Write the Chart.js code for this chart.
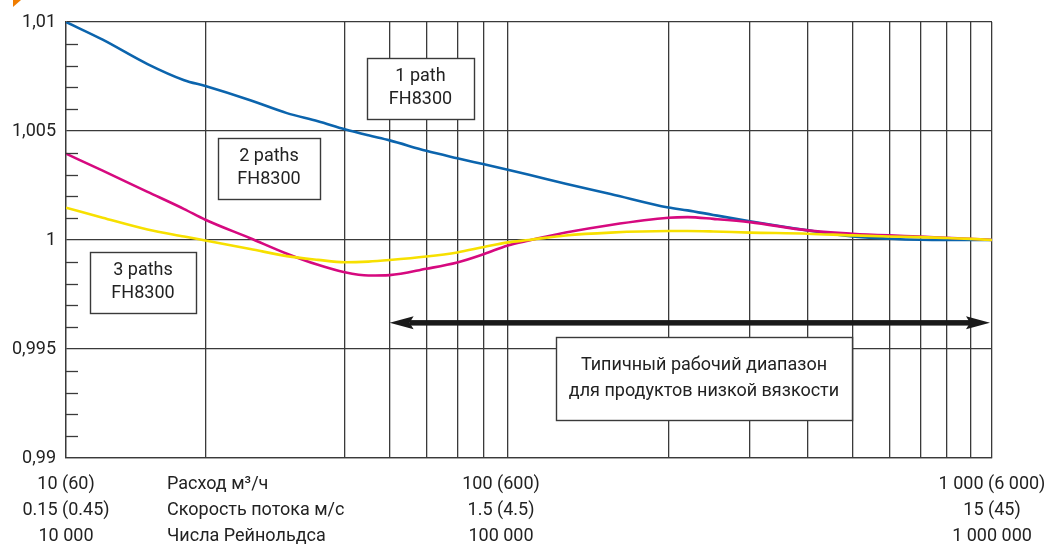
<!DOCTYPE html>
<html>
<head>
<meta charset="utf-8">
<script src="https://cdn.jsdelivr.net/npm/chart.js@4.4.1/dist/chart.umd.min.js"></script>
<style>
html,body{margin:0;padding:0;background:#fff;}
#wrap{width:1051px;height:553px;position:relative;}
</style>
</head>
<body>
<div id="wrap"><canvas id="c" width="1051" height="553"></canvas></div>
<script>
// ---- data (x = flow rate, m3/h; log axis) ----
const flowRates  = [10, 12, 15, 18, 20, 25, 30, 35, 40, 45, 50, 60, 70, 80, 90, 100, 120, 150, 200, 220, 250, 300, 400, 500, 600, 700, 800, 900, 1000];
const onePath    = [1.0100, 1.00919, 1.00807, 1.00733, 1.00706, 1.00641, 1.00582, 1.00545, 1.00508, 1.00480, 1.00457, 1.00409, 1.00375, 1.00347, 1.00322, 1.00299, 1.00258, 1.00211, 1.00149, 1.00136, 1.00115, 1.00086, 1.00044, 1.00016, 1.00006, 1.00001, 1.0000, 1.0000, 1.0000];
const twoPaths   = [1.00396, 1.00318, 1.00221, 1.00142, 1.00093, 1.00008, 0.99937, 0.99886, 0.99852, 0.99837, 0.99839, 0.99868, 0.99897, 0.99936, 0.99975, 0.99998, 1.00034, 1.00069, 1.00102, 1.00105, 1.00097, 1.00082, 1.00044, 1.00029, 1.00021, 1.00016, 1.00010, 1.00006, 1.0000];
const threePaths = [1.00148, 1.00102, 1.00048, 1.00016, 0.99998, 0.99959, 0.99926, 0.99909, 0.99898, 0.99901, 0.99908, 0.99924, 0.99943, 0.99968, 0.99989, 1.00000, 1.00021, 1.00034, 1.00041, 1.00041, 1.00039, 1.00034, 1.00029, 1.00021, 1.00016, 1.00013, 1.00009, 1.00005, 1.0000];

// ---- axis ticks / labels ----
const yTickValues = [0.99, 0.995, 1, 1.005, 1.01];
const yTickLabels = ['0,99', '0,995', '1', '1,005', '1,01'];
const yMinorTicks = [0.991, 0.992, 0.993, 0.994, 0.996, 0.997, 0.998, 0.999, 1.001, 1.002, 1.003, 1.004, 1.006, 1.007, 1.008, 1.009];
const xGridValues = [10, 20, 40, 50, 60, 70, 80, 90, 200, 300, 400, 500, 600, 700, 800, 900, 1000];
const xLabelValues = [10, 87, 1000];
const flowLabels     = ['10 (60)', '100 (600)', '1 000 (6 000)'];
const speedLabels    = ['0.15 (0.45)', '1.5 (4.5)', '15 (45)'];
const reynoldsLabels = ['10 000', '100 000', '1 000 000'];
const rowTitles      = ['Расход м³/ч', 'Скорость потока м/с', 'Числа Рейнольдса'];

// ---- annotations ----
const seriesBoxes = [
  {lines: ['1 path', 'FH8300'],  x: 367, y: 58,  w: 107, h: 61},
  {lines: ['2 paths', 'FH8300'], x: 218, y: 138, w: 102, h: 61},
  {lines: ['3 paths', 'FH8300'], x: 90,  y: 252, w: 106, h: 61}
];
const rangeText = ['Типичный рабочий диапазон', 'для продуктов низкой вязкости'];
const rangeArrowX = [50, 990];
const rangeArrowLevel = 0.9962;

const FONT = 'Roboto, "Liberation Sans", sans-serif';
const FS = 18;
const GRID = '#3a3a3a';
const TEXT = '#222';

const annotationsPlugin = {
  id: 'annotations',
  afterDraw(chart) {
    const c = chart.ctx, a = chart.chartArea;
    const xs = chart.scales.x, ys = chart.scales.y;
    c.save();
    // minor ticks on y axis (inside the plot)
    c.strokeStyle = GRID; c.lineWidth = 1.3;
    yMinorTicks.forEach(v => {
      const y = Math.round(ys.getPixelForValue(v)) + 0.5;
      c.beginPath(); c.moveTo(a.left, y); c.lineTo(a.left + 12, y); c.stroke();
    });
    // double arrow
    const x1 = xs.getPixelForValue(rangeArrowX[0]);
    const x2 = xs.getPixelForValue(rangeArrowX[1]);
    const ay = ys.getPixelForValue(rangeArrowLevel);
    c.fillStyle = '#1a1a1a';
    c.fillRect(x1 + 20, ay - 2.75, (x2 - x1) - 40, 5.5);
    const head = (tip, dir) => {
      c.beginPath();
      c.moveTo(tip, ay);
      c.lineTo(tip + dir * 24, ay - 6.5);
      c.lineTo(tip + dir * 20, ay);
      c.lineTo(tip + dir * 24, ay + 6.5);
      c.closePath(); c.fill();
    };
    head(x1, 1); head(x2, -1);
    // boxes
    c.lineWidth = 1.4; c.strokeStyle = '#3a3a3a';
    c.font = FS + 'px ' + FONT; c.fillStyle = TEXT;
    c.textAlign = 'center'; c.textBaseline = 'middle';
    seriesBoxes.forEach(b => {
      c.fillStyle = '#fff';
      c.fillRect(b.x, b.y, b.w, b.h);
      c.strokeRect(b.x + 0.5, b.y + 0.5, b.w, b.h);
      c.fillStyle = TEXT;
      b.lines.forEach((t, i) => c.fillText(t, b.x + b.w / 2, b.y + 18 + i * 23));
    });
    // operating range box
    const bx = 556, by = 337, bw = 296, bh = 83;
    c.fillStyle = '#fff'; c.fillRect(bx, by, bw, bh);
    c.strokeRect(bx + 0.5, by + 0.5, bw, bh);
    c.fillStyle = TEXT;
    rangeText.forEach((t, i) => c.fillText(t, bx + bw / 2, by + 28 + i * 26));
    // row titles under the x axis
    c.textAlign = 'left';
    rowTitles.forEach((t, i) => c.fillText(t, a.left + 101, a.bottom + 26 + i * 26));
    // orange corner mark
    c.fillStyle = '#f07d00';
    c.beginPath(); c.moveTo(13, 0); c.lineTo(21, 0); c.lineTo(13, 7); c.closePath(); c.fill();
    c.restore();
  }
};

const ds = (label, vals, color, order) => ({
  label,
  data: flowRates.map((x, i) => ({x, y: vals[i]})),
  borderColor: color,
  borderWidth: 2.6,
  pointRadius: 0,
  fill: false,
  cubicInterpolationMode: 'monotone',
  order
});

new Chart(document.getElementById('c'), {
  type: 'line',
  data: {
    datasets: [
      ds('3 paths FH8300', threePaths, '#f7e000', 0),
      ds('2 paths FH8300', twoPaths, '#d6097f', 1),
      ds('1 path FH8300', onePath, '#0b64ad', 2)
    ]
  },
  options: {
    responsive: false,
    animation: false,
    devicePixelRatio: 1,
    layout: {padding: {top: 22, right: 59, left: 0, bottom: 0}},
    plugins: {legend: {display: false}, tooltip: {enabled: false}},
    scales: {
      x: {
        type: 'logarithmic',
        min: 10, max: 1000,
        afterBuildTicks: s => {
          const vals = Array.from(new Set([...xGridValues, ...xLabelValues])).sort((p, q) => p - q);
          s.ticks = vals.map(v => ({value: v}));
        },
        afterFit: s => { s.height = 95; s.paddingLeft = 0; s.paddingRight = 0; },
        grid: {
          color: c => (c.tick && xGridValues.includes(c.tick.value)) ? GRID : 'rgba(0,0,0,0)',
          lineWidth: 1.3,
          drawTicks: false
        },
        border: {color: GRID, width: 1.3},
        ticks: {
          autoSkip: false, maxRotation: 0, minRotation: 0,
          padding: 13,
          color: TEXT,
          font: {family: FONT, size: FS, lineHeight: 26 / FS},
          callback: v => {
            const i = xLabelValues.indexOf(v);
            return i < 0 ? '' : [flowLabels[i], speedLabels[i], reynoldsLabels[i]];
          }
        }
      },
      y: {
        min: 0.99, max: 1.01,
        afterBuildTicks: s => { s.ticks = yTickValues.map(v => ({value: v})); },
        afterFit: s => { s.width = 66; s.paddingTop = 0; s.paddingBottom = 0; },
        grid: {color: GRID, lineWidth: 1.3, drawTicks: false},
        border: {color: GRID, width: 1.3},
        ticks: {
          padding: 10,
          color: TEXT,
          font: {family: FONT, size: FS},
          callback: v => {
            const i = yTickValues.findIndex(t => Math.abs(t - v) < 1e-9);
            return i < 0 ? '' : yTickLabels[i];
          }
        }
      }
    }
  },
  plugins: [annotationsPlugin]
});
</script>
</body>
</html>
